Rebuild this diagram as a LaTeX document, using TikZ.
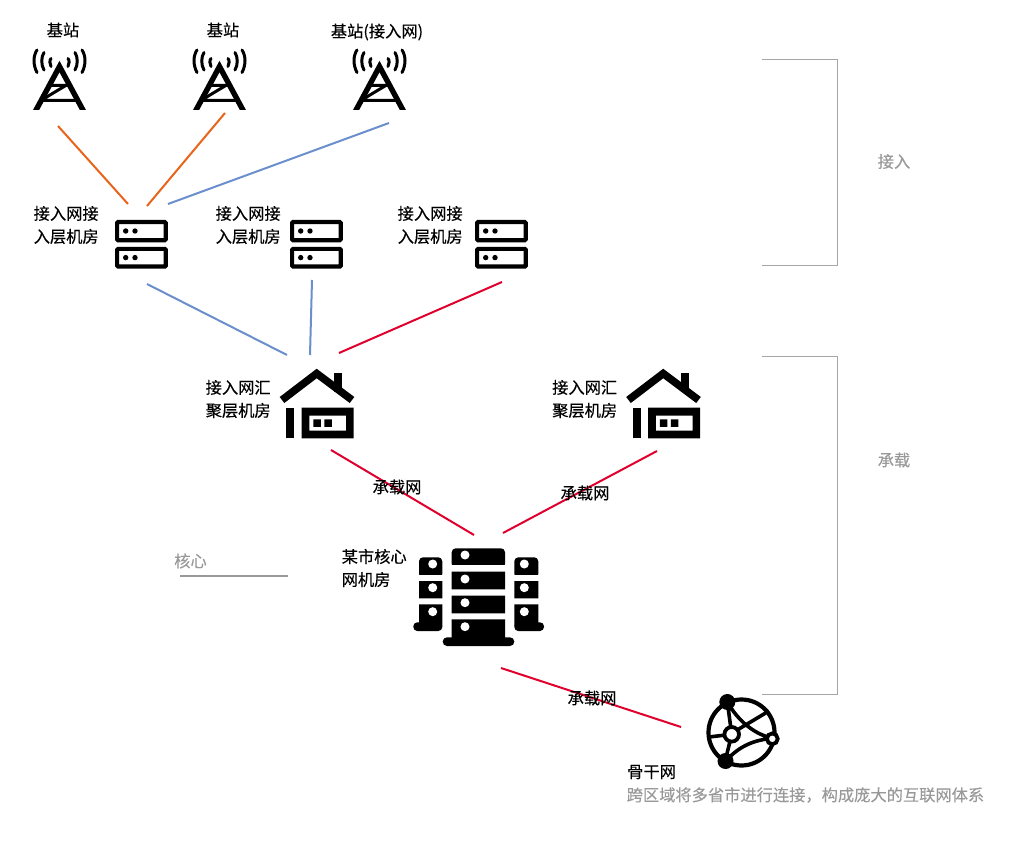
\documentclass[tikz,border=0pt]{standalone}
\usepackage{fontspec}
\setmainfont{Noto Sans CJK SC}[FakeBold=0.25]
\definecolor{lineorange}{HTML}{E8641B}
\definecolor{lineblue}{HTML}{6A8FCC}
\definecolor{linered}{HTML}{E0002D}
\definecolor{softgray}{HTML}{999999}
\definecolor{bracketgray}{HTML}{A6A6A6}
\tikzset{
  lbl/.style={inner sep=0pt,font=\fontsize{16.25}{23}\selectfont,align=left,text=black},
  graylbl/.style={lbl,text=softgray},
  bracket/.style={draw=bracketgray,line width=1pt},
  orangeline/.style={draw=lineorange,line width=2pt},
  blueline/.style={draw=lineblue,line width=2pt},
  redline/.style={draw=linered,line width=2pt},
  pics/tower/.style={code={
    \begin{scope}
    \clip (28,60) rectangle (92,110);
    \draw[line width=5.4pt,miter limit=10] (35,112) -- (59.5,66.5) -- (84,112);
    \end{scope}
    \draw[line width=3pt] (48,85.5) -- (71,85.5) (42,100.5) -- (77,100.5) (65,86) -- (45,98);
    \draw[line width=3pt,line cap=round]
      (37,50) .. controls (33,56) and (33,65) .. (37,72.5)
      (44,52.5) .. controls (41,57) and (41,65) .. (44,70)
      (51,58.5) .. controls (49.5,60) and (49.5,64) .. (51,66.5)
      (82,50) .. controls (86,56) and (86,65) .. (82,72.5)
      (75,52.5) .. controls (78,57) and (78,65) .. (75,70)
      (68,58.5) .. controls (69.5,60) and (69.5,64) .. (68,66.5);
  }},
  pics/rack/.style={code={
    \draw[line width=4.2pt,rounded corners=1pt] (117.1,222.1) rectangle (165.7,240.3) (117.1,248.9) rectangle (165.7,266.6);
    \fill (125.7,231) circle (2.7) (135,231) circle (2.7) (125.7,257.6) circle (2.7) (135,257.6) circle (2.7);
  }},
  pics/hub/.style={code={
    \fill (334,373.5) rectangle (342,392);
    \draw[line width=7.6pt] (282,400) -- (316.7,373.5) -- (352,400);
    \fill (286.3,407.7) rectangle (294.2,438.5);
    \fill[even odd rule] (301.7,407.7) rectangle (353.5,438.5) (309.3,415.7) rectangle (346,430.7);
    \fill (313.3,419.3) rectangle (320.8,426.8) (324.3,419.3) rectangle (331.8,426.8);
  }},
}
\begin{document}
\begin{tikzpicture}[x=1pt,y=-1pt]
\useasboundingbox (0,0) rectangle (1015,866);
% towers
\pic at (0,0) {tower};
\pic at (160,0) {tower};
\pic at (320,0) {tower};
\node[lbl] (t1) at (63,30) {基站};
\node[lbl] (t2) at (223,30) {基站};
\node[lbl] (t3) at (377,32) {基站(接入网)};
% racks
\pic at (0,0) {rack};
\pic at (175,0) {rack};
\pic at (360,0) {rack};
\node[lbl,anchor=west] (r1) at (33.5,225) {接入网接\\入层机房};
\node[lbl,anchor=west] (r2) at (215.5,225) {接入网接\\入层机房};
\node[lbl,anchor=west] (r3) at (397.5,225) {接入网接\\入层机房};
% hubs
\pic at (0,0) {hub};
\pic at (346.5,0) {hub};
\node[lbl,anchor=west] (h1) at (205.5,399) {接入网汇\\聚层机房};
\node[lbl,anchor=west] (h2) at (552,399) {接入网汇\\聚层机房};
% core
\fill[rounded corners=4pt] (451.7,568) -- (451.7,548.3) -- (505,548.3) -- (505,568) -- cycle;
\fill[white] (450,565.3) rectangle (507,571.7);
\fill (451.7,571.7) rectangle (505,589.3) (451.7,595.7) rectangle (505,613.3) (451.7,619.3) rectangle (505,638);
\fill[rounded corners=4.3pt] (442.7,637.3) rectangle (514.3,646);
\fill[white] (465,555) circle (4.5) (465,579) circle (4.5) (465,602.7) circle (4.5) (465,626.7) circle (4.5);
\fill[rounded corners=4pt] (419,578) -- (419,557.3) -- (442.3,557.3) -- (442.3,578) -- cycle;
\fill[white] (417,574.6) rectangle (444,581);
\fill (419,581) rectangle (442.3,598.3) (419,604.3) rectangle (442.3,626);
\fill[rounded corners=4pt] (413.3,622.3) rectangle (442.3,631);
\fill[white] (432.7,564) circle (4.5) (432.7,587.7) circle (4.5) (432.7,611.7) circle (4.5);
\fill[rounded corners=4pt] (514.3,578) -- (514.3,557.3) -- (538.3,557.3) -- (538.3,578) -- cycle;
\fill[white] (512,574.6) rectangle (540,581);
\fill (514.3,581) rectangle (538.3,598.3) (514.3,604.3) rectangle (538.3,626);
\fill[rounded corners=4pt] (514.3,622.3) rectangle (544,631);
\fill[white] (524.3,564) circle (4.5) (524.3,587.7) circle (4.5) (524.3,611.7) circle (4.5);
\node[lbl,anchor=west] (c) at (341.5,568) {某市核心\\网机房};
% globe
\draw[line width=4.2pt] (741.5,732.5) circle (33);
\draw[line width=3.6pt]
  (727.3,701.7) -- (731.7,734.3)
  (709,737) -- (731.7,734.3)
  (725,761.7) -- (731.7,734.3)
  (738,729.5) -- (769,711)
  (727.3,701.7) .. controls (735,716) and (750,733) .. (772.3,738.3)
  (725,761.7) .. controls (740,745) and (755,740) .. (772.3,738.3);
\fill (727.3,702) circle (8) (725.5,761) circle (8);
\draw[line width=3.8pt,fill=white] (731.7,734.3) circle (7.3) (772.3,738.8) circle (5.4);
\node[lbl,anchor=west] (b) at (627,772) {骨干网};
\node[graylbl,anchor=west] (bd) at (626.5,795) {跨区域将多省市进行连接，构成庞大的互联网体系};
% connector ends
\coordinate (a1) at (58,126); \coordinate (a2) at (128,204);
\coordinate (a3) at (225,113); \coordinate (a4) at (147,206);
\coordinate (a5) at (389,123); \coordinate (a6) at (168,204);
\coordinate (b1) at (147,284); \coordinate (b2) at (287,355);
\coordinate (b3) at (312,280); \coordinate (b4) at (310,355);
\coordinate (b5) at (502,282); \coordinate (b6) at (339,353);
\coordinate (d1) at (331,450); \coordinate (d2) at (474,535);
\coordinate (d3) at (657,451); \coordinate (d4) at (503,533);
\coordinate (e1) at (501,668); \coordinate (e2) at (681,727);
\draw[orangeline] (a1) -- (a2);
\draw[orangeline] (a3) -- (a4);
\draw[blueline] (a5) -- (a6);
\draw[blueline] (b1) -- (b2);
\draw[blueline] (b3) -- (b4);
\draw[redline] (b5) -- (b6);
\draw[redline] (d1) -- (d2);
\draw[redline] (d3) -- (d4);
\draw[redline] (e1) -- (e2);
\node[lbl] (l1) at (397,487) {承载网};
\node[lbl] (l2) at (585,493) {承载网};
\node[lbl] (l3) at (592,698) {承载网};
% brackets
\coordinate (s1) at (762,59.5); \coordinate (s2) at (837.5,59.5); \coordinate (s3) at (837.5,265.5); \coordinate (s4) at (762,265.5);
\coordinate (u1) at (762,356.5); \coordinate (u2) at (837.5,356.5); \coordinate (u3) at (837.5,694.5); \coordinate (u4) at (762,694.5);
\draw[bracket] (s1) -- (s2) -- (s3) -- (s4);
\draw[bracket] (u1) -- (u2) -- (u3) -- (u4);
\node[graylbl] (g1) at (894,161.5) {接入};
\node[graylbl] (g2) at (894,460) {承载};
\node[graylbl] (g3) at (190.5,561) {核心};
\coordinate (k1) at (180,575.5); \coordinate (k2) at (288,575.5);
\draw[draw=softgray,line width=2pt] (k1) -- (k2);
\end{tikzpicture}
\end{document}
